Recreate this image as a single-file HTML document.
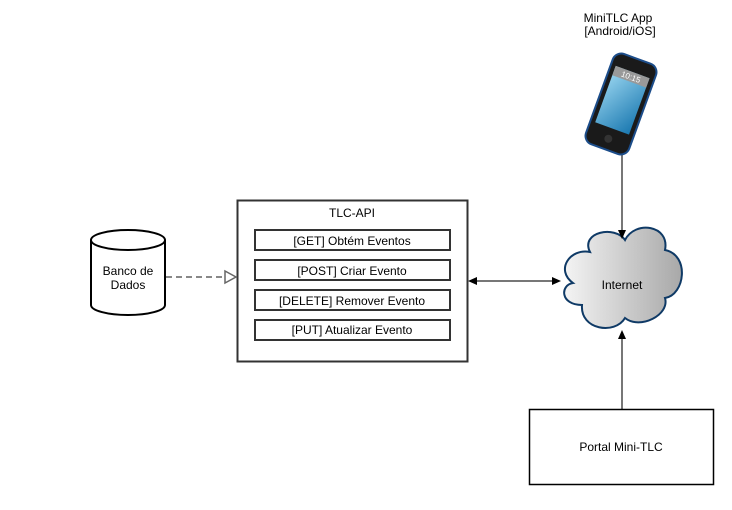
<!DOCTYPE html>
<html><head><meta charset="utf-8"><style>
body{margin:0;background:#fff;width:732px;height:505px;overflow:hidden;font-family:"Liberation Sans",sans-serif}
</style></head><body>
<svg width="732" height="505" xmlns="http://www.w3.org/2000/svg" font-family="Liberation Sans, sans-serif" font-size="12">
<defs>
<linearGradient id="cg" x1="0" x2="1"><stop offset="0" stop-color="#f4f4f4"/><stop offset="1" stop-color="#a8a8a8"/></linearGradient>
<linearGradient id="sg" x1="0" y1="0" x2="1" y2="1"><stop offset="0" stop-color="#9ad6f0"/><stop offset="1" stop-color="#1a78b0"/></linearGradient>
</defs>
<rect x="237.5" y="200.5" width="230" height="161" fill="#fff" stroke="#333" stroke-width="2"/>
<text x="352" y="217" text-anchor="middle">TLC-API</text>
<g fill="#fff" stroke="#333" stroke-width="2">
<rect x="255" y="230" width="195" height="20"/><rect x="255" y="260" width="195" height="20"/>
<rect x="255" y="290" width="195" height="20"/><rect x="255" y="320" width="195" height="20"/></g>
<g text-anchor="middle"><text x="352" y="245">[GET] Obtém Eventos</text><text x="352" y="275">[POST] Criar Evento</text>
<text x="352" y="305">[DELETE] Remover Evento</text><text x="352" y="334">[PUT] Atualizar Evento</text></g>
<path d="M91 240 V305 A37 10 0 0 0 165 305 V240" fill="#fff" stroke="#000" stroke-width="2"/>
<ellipse cx="128" cy="240" rx="37" ry="10" fill="#fff" stroke="#000" stroke-width="2"/>
<text x="128" y="275" text-anchor="middle">Banco de</text><text x="128" y="289" text-anchor="middle">Dados</text>
<line x1="166" y1="277" x2="225" y2="277" stroke="#888" stroke-width="2" stroke-dasharray="6,4"/>
<path d="M225 271 L236 277 L225 283 Z" fill="#fff" stroke="#666" stroke-width="1.5"/>
<line x1="475" y1="281" x2="552" y2="281" stroke="#777" stroke-width="2"/>
<path d="M468 281 L477 277 L477 285Z M561 281 L552 277 L552 285Z" fill="#000"/>
<path d="M590 252 C580 232 615 225 625 240 C635 220 670 225 665 250 C690 255 685 295 665 298 C670 315 640 330 625 318 C615 335 580 330 582 305 C560 305 560 285 573 283 C555 270 570 248 590 252 Z" fill="url(#cg)" stroke="#0f3a66" stroke-width="2"/>
<text x="622" y="289" text-anchor="middle">Internet</text>
<line x1="622" y1="150" x2="622" y2="232" stroke="#777" stroke-width="2"/>
<path d="M622 239 L618 230 L626 230Z" fill="#000"/>
<line x1="622" y1="409" x2="622" y2="338" stroke="#777" stroke-width="2"/>
<path d="M622 330 L618 339 L626 339Z" fill="#000"/>
<rect x="529.5" y="409.5" width="184" height="75" fill="#fff" stroke="#000" stroke-width="1.5"/>
<text x="621" y="451" text-anchor="middle">Portal Mini-TLC</text>
<text x="618" y="22" text-anchor="middle">MiniTLC App</text>
<text x="620" y="35" text-anchor="middle">[Android/iOS]</text>
<g transform="rotate(20 621 104)">
<rect x="598" y="56" width="46" height="96" rx="9" fill="#1a1a1a" stroke="#1c4d8a" stroke-width="2"/>
<rect x="603" y="70" width="36" height="60" fill="url(#sg)"/>
<rect x="603" y="70" width="36" height="10" fill="#999"/>
<text x="621" y="78" font-size="8" fill="#fff" text-anchor="middle">10:15</text>
<circle cx="621" cy="141" r="4" fill="#333"/>
</g>
</svg>
</body></html>
